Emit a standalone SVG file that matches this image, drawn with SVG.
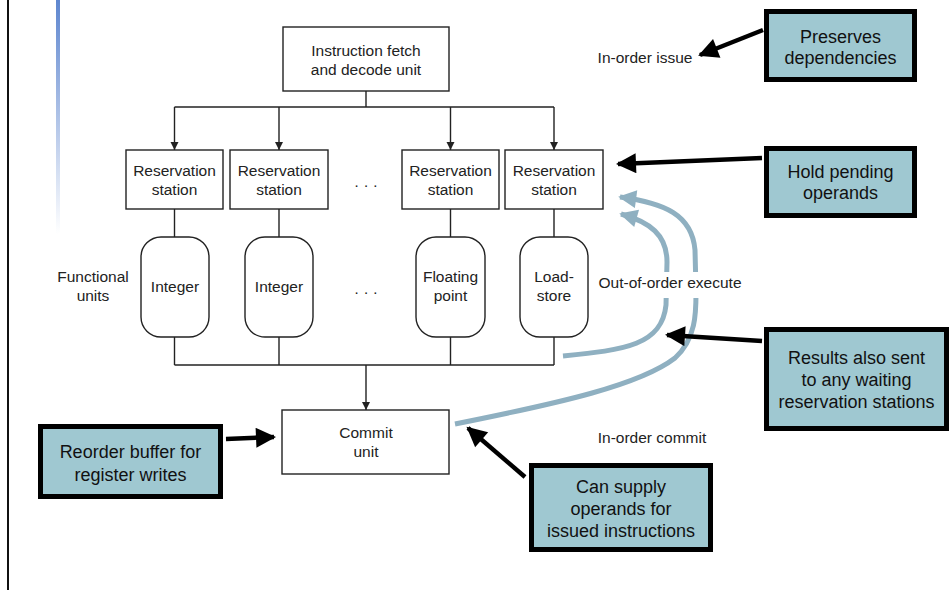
<svg xmlns="http://www.w3.org/2000/svg" width="951" height="590" viewBox="0 0 951 590">
<style>
.box{fill:#fff;stroke:#222;stroke-width:1.4}
.ln{fill:none;stroke:#222;stroke-width:1.4}
.t{font-family:"Liberation Sans",Arial,sans-serif;font-size:15.5px;fill:#222;text-anchor:middle}
.co{fill:#9fc8d1;stroke:#000;stroke-width:5}
.ct{font-family:"Liberation Sans",Arial,sans-serif;font-size:18px;fill:#111;text-anchor:middle}
.blk{fill:none;stroke:#000;stroke-width:4.5}
.blu{fill:none;stroke:#8fb0c1;stroke-width:5}
</style>
<defs>
<linearGradient id="g" x1="0" y1="0" x2="0" y2="1">
<stop offset="0" stop-color="#5e86cf"/>
<stop offset="1" stop-color="#ffffff"/>
</linearGradient>
<marker id="sa" viewBox="0 0 10 10" refX="10" refY="5" markerWidth="8" markerHeight="9" markerUnits="userSpaceOnUse" orient="auto">
<path d="M0 0L10 5L0 10z" fill="#222"/>
</marker>
<marker id="ba" viewBox="0 0 10 10" refX="9" refY="5" markerWidth="22" markerHeight="20" markerUnits="userSpaceOnUse" orient="auto">
<path d="M0 0L10 5L0 10z" fill="#000"/>
</marker>
<marker id="ua" viewBox="0 0 10 10" refX="9" refY="5" markerWidth="20" markerHeight="18" markerUnits="userSpaceOnUse" orient="auto">
<path d="M0 0L10 5L0 10z" fill="#8fb0c1"/>
</marker>
</defs>
<rect width="951" height="590" fill="#fff"/>
<line x1="8" y1="0" x2="8" y2="590" stroke="#111" stroke-width="2"/>
<rect x="56" y="0" width="4" height="234" fill="url(#g)"/>

<g id="connectors">
<line class="ln" x1="366" y1="91" x2="366" y2="107"/>
<line class="ln" x1="174.5" y1="107" x2="554" y2="107"/>
<line class="ln" x1="174.5" y1="107" x2="174.5" y2="150" marker-end="url(#sa)"/>
<line class="ln" x1="279" y1="107" x2="279" y2="150" marker-end="url(#sa)"/>
<line class="ln" x1="450.5" y1="107" x2="450.5" y2="150" marker-end="url(#sa)"/>
<line class="ln" x1="554" y1="107" x2="554" y2="150" marker-end="url(#sa)"/>
<line class="ln" x1="174.5" y1="209" x2="174.5" y2="237"/>
<line class="ln" x1="279" y1="209" x2="279" y2="237"/>
<line class="ln" x1="450.5" y1="209" x2="450.5" y2="237"/>
<line class="ln" x1="554" y1="209" x2="554" y2="237"/>
<line class="ln" x1="174.5" y1="337" x2="174.5" y2="365"/>
<line class="ln" x1="279" y1="337" x2="279" y2="365"/>
<line class="ln" x1="450.5" y1="337" x2="450.5" y2="365"/>
<line class="ln" x1="554" y1="337" x2="554" y2="365"/>
<line class="ln" x1="174.5" y1="365" x2="554" y2="365"/>
<line class="ln" x1="366" y1="365" x2="366" y2="410" marker-end="url(#sa)"/>
<path class="blu" d="M563 356 C625 350 662 345 666 305 L667 262 C667 235 650 222 621 214" marker-end="url(#ua)"/>
<path class="blu" d="M455 424 C560 403 640 385 675 358 C697 338 696 310 696 290 L695 250 C692 215 665 203 620 197" marker-end="url(#ua)"/>
<line class="blk" x1="763" y1="30" x2="700" y2="55" marker-end="url(#ba)"/>
<line class="blk" x1="762" y1="158" x2="618" y2="164" marker-end="url(#ba)"/>
<line class="blk" x1="762" y1="341" x2="667" y2="335" marker-end="url(#ba)"/>
<line class="blk" x1="226" y1="439" x2="274" y2="437" marker-end="url(#ba)"/>
<line class="blk" x1="525" y1="477" x2="468" y2="428" marker-end="url(#ba)"/>
</g>

<g id="fetch"><rect class="box" x="283" y="27" width="166" height="64"/>
<text class="t" x="366" y="56">Instruction fetch</text><text class="t" x="366" y="75">and decode unit</text></g>
<g id="rs1"><rect class="box" x="126" y="150" width="97" height="59"/>
<text class="t" x="174.5" y="176">Reservation</text><text class="t" x="174.5" y="195">station</text></g>
<g id="rs2"><rect class="box" x="230" y="150" width="98" height="59"/>
<text class="t" x="279" y="176">Reservation</text><text class="t" x="279" y="195">station</text></g>
<g id="rs3"><rect class="box" x="402" y="150" width="97" height="59"/>
<text class="t" x="450.5" y="176">Reservation</text><text class="t" x="450.5" y="195">station</text></g>
<g id="rs4"><rect class="box" x="505" y="150" width="98" height="59"/>
<text class="t" x="554" y="176">Reservation</text><text class="t" x="554" y="195">station</text></g>
<g id="fu1"><rect class="box" x="141" y="237" width="68" height="100" rx="20"/>
<text class="t" x="175" y="292">Integer</text></g>
<g id="fu2"><rect class="box" x="245" y="237" width="68" height="100" rx="20"/>
<text class="t" x="279" y="292">Integer</text></g>
<g id="fu3"><rect class="box" x="416" y="237" width="69" height="100" rx="20"/>
<text class="t" x="450.5" y="282">Floating</text><text class="t" x="450.5" y="301">point</text></g>
<g id="fu4"><rect class="box" x="520" y="237" width="68" height="100" rx="20"/>
<text class="t" x="554" y="282">Load-</text><text class="t" x="554" y="301">store</text></g>
<g id="commit"><rect class="box" x="282" y="410" width="167" height="64"/>
<text class="t" x="366" y="438">Commit</text><text class="t" x="366" y="457">unit</text></g>

<g id="labels">
<text class="t" x="366" y="190">· · ·</text>
<text class="t" x="366" y="297">· · ·</text>
<text class="t" x="93" y="282">Functional</text><text class="t" x="93" y="301">units</text>
<rect x="595" y="272" width="150" height="26" fill="#fff"/>
<text class="t" x="670" y="288">Out-of-order execute</text>
<text class="t" x="645" y="63">In-order issue</text>
<text class="t" x="652" y="443">In-order commit</text>
</g>

<g id="c1"><rect class="co" x="766.5" y="11.5" width="148" height="68"/>
<text class="ct" x="840.5" y="43">Preserves</text><text class="ct" x="840.5" y="64">dependencies</text></g>
<g id="c2"><rect class="co" x="766.5" y="148.5" width="148" height="67"/>
<text class="ct" x="840.5" y="178">Hold pending</text><text class="ct" x="840.5" y="199">operands</text></g>
<g id="c3"><rect class="co" x="766.5" y="329.5" width="180" height="99"/>
<text class="ct" x="856.5" y="364">Results also sent</text><text class="ct" x="856.5" y="386">to any waiting</text><text class="ct" x="856.5" y="408">reservation stations</text></g>
<g id="c4"><rect class="co" x="40.5" y="426.5" width="180" height="70"/>
<text class="ct" x="130.5" y="458">Reorder buffer for</text><text class="ct" x="130.5" y="481">register writes</text></g>
<g id="c5"><rect class="co" x="531.5" y="465.5" width="179" height="84"/>
<text class="ct" x="621" y="493">Can supply</text><text class="ct" x="621" y="515">operands for</text><text class="ct" x="621" y="537">issued instructions</text></g>
</svg>
